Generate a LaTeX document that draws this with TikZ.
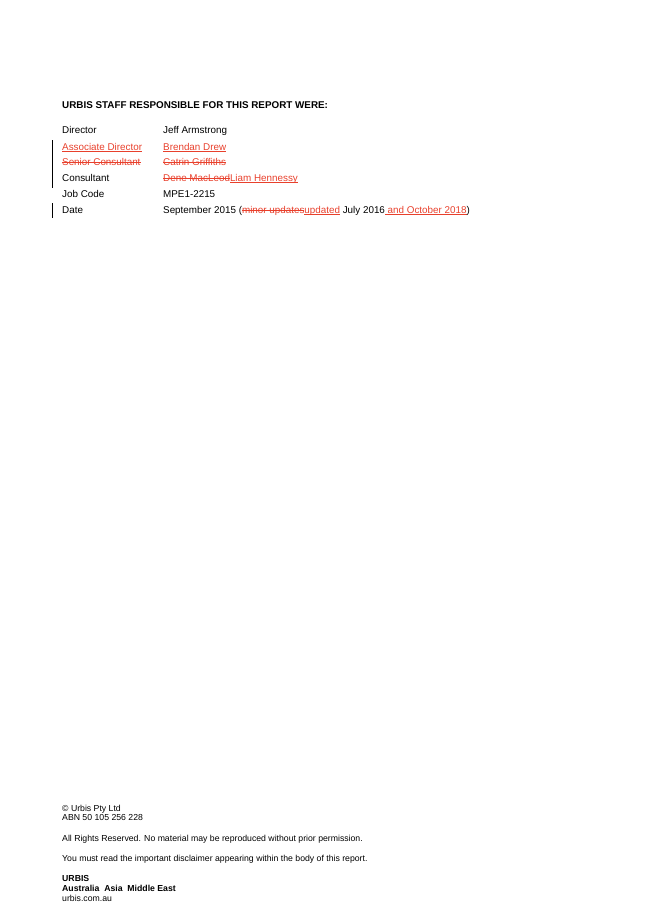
\documentclass[tikz,border=0pt]{standalone}
\usepackage{fontspec}
\setmainfont{Liberation Sans}
\definecolor{revred}{RGB}{232,64,44}
\newsavebox{\revbox}
\newcommand{\ins}[1]{{\color{revred}\sbox{\revbox}{#1}\rlap{\rule[-0.17em]{\wd\revbox}{0.5pt}}\usebox{\revbox}}}
\newcommand{\del}[1]{{\color{revred}\sbox{\revbox}{#1}\rlap{\rule[0.3em]{\wd\revbox}{0.5pt}}\usebox{\revbox}}}
\tikzset{
	row/.style={anchor=base west, inner sep=0pt, font=\fontsize{9.85}{11}\selectfont},
	foot/.style={anchor=base west, inner sep=0pt, font=\fontsize{8.7}{9}\selectfont},
	changebar/.style={line width=0.6pt}
}
\begin{document}
\begin{tikzpicture}[x=1pt,y=-1pt]
		\useasboundingbox (0,0) rectangle (653,923);
		\node [row, font=\fontsize{9.85}{11}\selectfont\bfseries] (head) at (62, 109) {URBIS STAFF RESPONSIBLE FOR THIS REPORT WERE:};
		\node [row] (dirl) at (62, 134) {Director};
		\node [row] (dirn) at (163, 134) {Jeff Armstrong};
		\node [row] (asl) at (62, 150) {\ins{Associate Director}};
		\node [row] (asn) at (163, 150) {\ins{Brendan Drew}};
		\node [row] (srl) at (62, 165) {\del{Senior Consultant}};
		\node [row] (srn) at (163, 165) {\del{Catrin Griffiths}};
		\node [row] (conl) at (62, 181) {Consultant};
		\node [row] (conn) at (163, 181) {\del{Dene MacLeod}\ins{Liam Hennessy}};
		\node [row] (jobl) at (62, 197) {Job Code};
		\node [row] (jobn) at (163, 197) {MPE1-2215};
		\node [row] (datl) at (62, 213) {Date};
		\node [row] (datn) at (163, 213) {September 2015 ({\del{minor updates}\ins{updated}} July 2016\ins{ and October 2018})};
		\draw [changebar] (52, 140) -- (52, 188);
		\draw [changebar] (52, 203) -- (52, 218);
		\node [foot] (copy) at (62, 811) {© Urbis Pty Ltd};
		\node [foot] (abn) at (62, 820) {ABN 50 105 256 228};
		\node [foot] (rights) at (62, 841) {All Rights Reserved. No material may be reproduced without prior permission.};
		\node [foot] (discl) at (62, 861) {You must read the important disclaimer appearing within the body of this report.};
		\node [foot, font=\fontsize{8.7}{9}\selectfont\bfseries] (urbis) at (62, 881) {URBIS};
		\node [foot, font=\fontsize{8.7}{9}\selectfont\bfseries] (regions) at (62, 891) {Australia\ \ Asia\ \ Middle East};
		\node [foot] (web) at (62, 901) {urbis.com.au};
	\end{tikzpicture}
\end{document}
